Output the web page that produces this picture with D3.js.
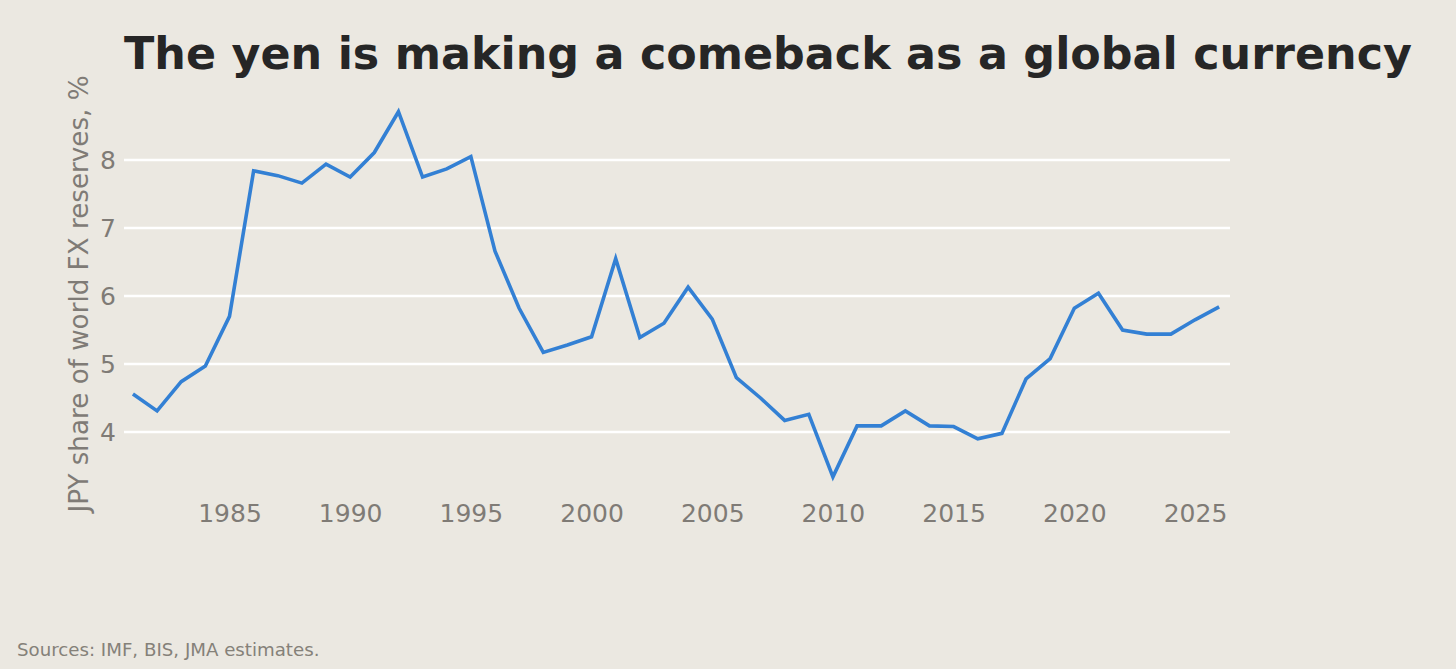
<!DOCTYPE html>
<html>
<head>
<meta charset="utf-8">
<script src="https://cdn.jsdelivr.net/npm/d3@7"></script>
<style>
  html, body { margin: 0; padding: 0; background: #ebe8e1; }
  svg { display: block; font-family: "DejaVu Sans", sans-serif; }
</style>
</head>
<body>
<div id="chart"></div>
<script>
const years = d3.range(1981, 2027);
const jpyShare = [
  4.56, 4.31, 4.74, 4.97, 5.70, 7.84, 7.77, 7.66, 7.94, 7.75,
  8.11, 8.71, 7.75, 7.87, 8.05, 6.66, 5.82, 5.17, 5.28, 5.40,
  6.55, 5.39, 5.60, 6.13, 5.66, 4.80, 4.50, 4.17, 4.26, 3.34,
  4.09, 4.09, 4.31, 4.09, 4.08, 3.90, 3.98, 4.78, 5.08, 5.82,
  6.04, 5.50, 5.44, 5.44, 5.65, 5.84
];
const yTicks = [4, 5, 6, 7, 8];
const xTicks = [1985, 1990, 1995, 2000, 2005, 2010, 2015, 2020, 2025];

const width = 1456, height = 669;
const data = years.map((y, i) => ({ year: y, value: jpyShare[i] }));

const svg = d3.select("#chart")
  .append("svg")
  .attr("width", width)
  .attr("height", height);

svg.append("rect")
  .attr("width", width)
  .attr("height", height)
  .attr("fill", "#ebe8e1");

// plot area 124..1230 wide; y: 4 at 432, 8 at 160
const xScale = d3.scaleLinear().domain([1980.63, 2026.45]).range([124, 1230]);
const yScale = d3.scaleLinear().domain([4, 8]).range([432, 160]);

// gridlines
svg.append("g")
  .selectAll("line")
  .data(yTicks)
  .enter()
  .append("line")
  .attr("x1", xScale.range()[0])
  .attr("x2", xScale.range()[1])
  .attr("y1", (d) => yScale(d))
  .attr("y2", (d) => yScale(d))
  .attr("stroke", "#ffffff")
  .attr("stroke-width", 2.5);

// y axis labels
const yAxis = svg.append("g")
  .attr("transform", `translate(${xScale.range()[0]}, 0)`)
  .call(d3.axisLeft(yScale).tickValues(yTicks).tickFormat(d3.format("d")).tickSize(0).tickPadding(8));
yAxis.select(".domain").remove();
yAxis.selectAll("text")
  .attr("fill", "#7f7b76")
  .attr("font-size", 25)
  .attr("font-family", "DejaVu Sans, sans-serif");

// x axis labels
const xAxis = svg.append("g")
  .attr("transform", "translate(0, 496)")
  .call(d3.axisBottom(xScale).tickValues(xTicks).tickFormat(d3.format("d")).tickSize(0).tickPadding(8));
xAxis.select(".domain").remove();
xAxis.selectAll("text")
  .attr("fill", "#7f7b76")
  .attr("font-size", 25)
  .attr("font-family", "DejaVu Sans, sans-serif");

// line
const line = d3.line()
  .x((d) => xScale(d.year))
  .y((d) => yScale(d.value));

svg.append("path")
  .datum(data)
  .attr("d", line)
  .attr("fill", "none")
  .attr("stroke", "#3380d4")
  .attr("stroke-width", 3.6)
  .attr("stroke-linejoin", "miter");

// title
svg.append("text")
  .attr("x", 768)
  .attr("y", 69)
  .attr("text-anchor", "middle")
  .attr("font-size", 44.4)
  .attr("font-weight", "bold")
  .attr("fill", "#262626")
  .text("The yen is making a comeback as a global currency");

// y axis title
svg.append("text")
  .attr("transform", "translate(88, 294) rotate(-90)")
  .attr("text-anchor", "middle")
  .attr("font-size", 26.2)
  .attr("fill", "#7f7b76")
  .text("JPY share of world FX reserves, %");

// source
svg.append("text")
  .attr("x", 17)
  .attr("y", 656)
  .attr("font-size", 18.2)
  .attr("fill", "#858179")
  .text("Sources: IMF, BIS, JMA estimates.");
</script>
</body>
</html>
